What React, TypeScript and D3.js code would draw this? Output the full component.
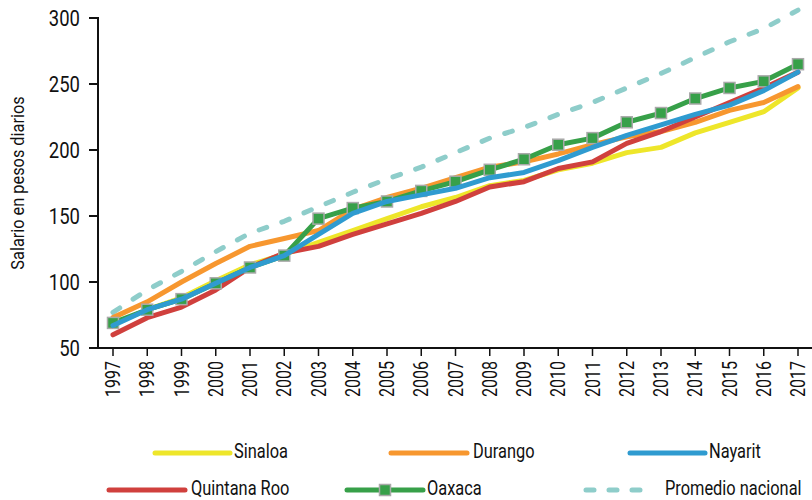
import React from 'react';
import * as d3 from 'd3';

const years = [1997, 1998, 1999, 2000, 2001, 2002, 2003, 2004, 2005, 2006, 2007, 2008, 2009, 2010, 2011, 2012, 2013, 2014, 2015, 2016, 2017];
const sinaloa = [68, 79, 88, 101, 113, 121, 130, 139, 148, 157, 164, 173, 177, 185, 190, 198, 202, 213, 221, 229, 247];
const durango = [73, 85, 100, 114, 127, 133, 139, 155, 164, 171, 179, 187, 191, 197, 204, 210, 214, 221, 230, 236, 248];
const nayarit = [67, 79, 87, 99, 111, 120, 136, 152, 161, 166, 171, 179, 183, 192, 202, 211, 219, 227, 234, 245, 259];
const quintanaRoo = [60, 73, 81, 94, 111, 122, 127, 136, 144, 152, 161, 172, 176, 186, 191, 205, 214, 225, 236, 247, 259];
const oaxaca = [69, 79, 87, 99, 111, 120, 148, 156, 161, 169, 176, 185, 193, 204, 209, 221, 228, 239, 247, 252, 265];
const promedio = [77, 94, 108, 123, 137, 146, 157, 168, 178, 187, 198, 209, 217, 227, 236, 247, 258, 270, 282, 292, 306];
const yTicks = [50, 100, 150, 200, 250, 300];

const FONT = 'Roboto, "Liberation Sans", sans-serif';

const C = {
  sinaloa: '#eee62a',
  durango: '#f7972f',
  nayarit: '#2f9bd0',
  qroo: '#d0403d',
  oaxaca: '#37a049',
  prom: '#8ecdca',
};

function T({
  x,
  y,
  rotate = 0,
  anchor = 'start',
  size,
  dy,
  children,
  sx = 0.84,
}: {
  x: number;
  y: number;
  rotate?: number;
  anchor?: string;
  size: number;
  dy?: string;
  children: React.ReactNode;
  sx?: number;
}) {
  return (
    <text
      transform={`translate(${x},${y}) rotate(${rotate}) scale(${sx},1)`}
      textAnchor={anchor as any}
      fontSize={size}
      dy={dy}
      fill="#111"
    >
      {children}
    </text>
  );
}

export default function App() {
  const x = d3.scaleLinear().domain([1997, 2017]).range([113, 798]);
  const y = d3.scaleLinear().domain([50, 300]).range([348, 18]);
  const line = d3
    .line<number>()
    .x((_, i) => x(years[i]))
    .y((d) => y(d));

  const lw = 5;
  const pathProps = { fill: 'none', strokeWidth: lw, strokeLinejoin: 'round' as const, strokeLinecap: 'round' as const };

  const r1 = { line: 453, base: 458 };
  const r2 = { line: 490, base: 494.5 };
  const legend = [
    { label: 'Sinaloa', color: C.sinaloa, x1: 155, x2: 230, tx: 234, row: r1 },
    { label: 'Durango', color: C.durango, x1: 391, x2: 467, tx: 473, row: r1 },
    { label: 'Nayarit', color: C.nayarit, x1: 630, x2: 705, tx: 709, row: r1 },
    { label: 'Quintana Roo', color: C.qroo, x1: 109, x2: 185, tx: 191, row: r2 },
    { label: 'Oaxaca', color: C.oaxaca, x1: 347, x2: 423, tx: 427, row: r2, marker: true },
    { label: 'Promedio nacional', color: C.prom, x1: 586, x2: 646, tx: 665, row: r2, dashed: true },
  ];

  return (
    <svg
      width={812}
      height={500}
      style={{ position: 'absolute', left: 0, top: 0, display: 'block', background: '#fff' }}
      fontFamily={FONT}
    >
      {/* Y axis */}
      <line x1={98} x2={98} y1={y(300) - 1} y2={y(50)} stroke="#111" strokeWidth={2} />
      {yTicks.map((t) => (
        <g key={t}>
          <line x1={89} x2={98} y1={y(t)} y2={y(t)} stroke="#111" strokeWidth={2} />
          <T x={80} y={y(t)} dy="0.355em" anchor="end" size={22}>
            {t}
          </T>
        </g>
      ))}
      {/* X axis */}
      <line x1={89} x2={812} y1={y(50)} y2={y(50)} stroke="#111" strokeWidth={2} />
      {years.map((yr) => (
        <g key={yr}>
          <line x1={x(yr)} x2={x(yr)} y1={y(50)} y2={y(50) + 8} stroke="#111" strokeWidth={1.5} />
          <T x={x(yr)} y={361} rotate={-90} dy="0.355em" anchor="end" size={20} sx={0.8}>
            {yr}
          </T>
        </g>
      ))}
      <T x={17} y={183} rotate={-90} dy="0.355em" anchor="middle" size={19} sx={0.86}>
        Salario en pesos diarios
      </T>

      {/* Series */}
      <path d={line(promedio) || ''} stroke={C.prom} {...pathProps} strokeDasharray="8,16" />
      <path d={line(sinaloa) || ''} stroke={C.sinaloa} {...pathProps} />
      <path d={line(durango) || ''} stroke={C.durango} {...pathProps} />
      <path d={line(quintanaRoo) || ''} stroke={C.qroo} {...pathProps} />
      <path d={line(oaxaca) || ''} stroke={C.oaxaca} {...pathProps} />
      {oaxaca.map((v, i) => (
        <rect
          key={i}
          x={x(years[i]) - 5.5}
          y={y(v) - 5.5}
          width={11}
          height={11}
          fill={C.oaxaca}
          stroke="#a9a9a9"
          strokeWidth={1.5}
        />
      ))}
      <path d={line(nayarit) || ''} stroke={C.nayarit} {...pathProps} />

      {/* Legend */}
      {legend.map((l) => (
        <g key={l.label}>
          <line
            x1={l.x1}
            x2={l.x2}
            y1={l.row.line}
            y2={l.row.line}
            stroke={l.color}
            strokeWidth={lw}
            strokeLinecap="round"
            strokeDasharray={l.dashed ? '8,15' : undefined}
          />
          {l.marker && (
            <rect
              x={(l.x1 + l.x2) / 2 - 5.5}
              y={l.row.line - 5.5}
              width={11}
              height={11}
              fill={C.oaxaca}
              stroke="#a9a9a9"
              strokeWidth={1.5}
            />
          )}
          <T x={l.tx} y={l.row.base} size={20} sx={0.82}>
            {l.label}
          </T>
        </g>
      ))}
    </svg>
  );
}
